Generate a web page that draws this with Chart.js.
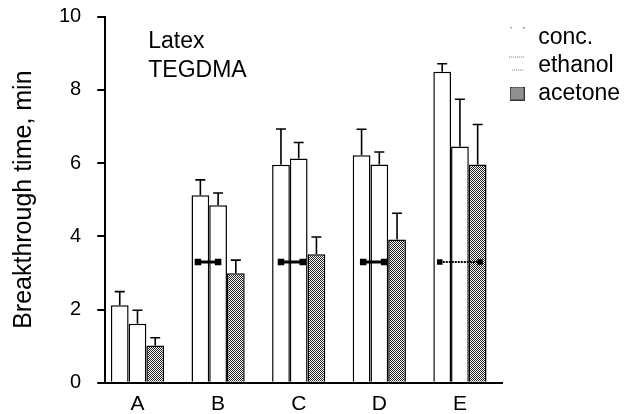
<!DOCTYPE html>
<html>
<head>
<meta charset="utf-8">
<script src="https://cdn.jsdelivr.net/npm/chart.js@4.4.0/dist/chart.umd.min.js"></script>
<style>
html, body { margin: 0; padding: 0; background: #fff; }
#wrap { width: 640px; height: 414px; }
</style>
</head>
<body>
<div id="wrap"><canvas id="graf" width="640" height="414"></canvas></div>
<script>
const kategorie = ["A", "B", "C", "D", "E"];
const conc = [2.12, 5.12, 5.95, 6.21, 8.49];
const concErr = [0.37, 0.42, 0.98, 0.71, 0.22];
const ethanol = [1.61, 4.85, 6.12, 5.96, 6.45];
const ethanolErr = [0.37, 0.33, 0.44, 0.34, 1.29];
const acetone = [1.02, 2.99, 3.51, 3.91, 5.96];
const acetoneErr = [0.21, 0.36, 0.47, 0.72, 1.09];

// horizontal range markers (B..E)
const markerY = 3.3;
const markerFrom = [0.75, 1.78, 2.80, 3.75];
const markerTo = [1.0, 2.05, 3.06, 4.25];

const popisky = ["Latex", "TEGDMA"];
const font = "'Liberation Sans', Arial, sans-serif";

function makePattern() {
    const c = document.createElement("canvas");
    c.width = 2;
    c.height = 2;
    const g = c.getContext("2d");
    g.fillStyle = "#fff";
    g.fillRect(0, 0, 2, 2);
    g.fillStyle = "#222";
    g.fillRect(0, 0, 1, 1);
    g.fillRect(1, 1, 1, 1);
    return g.createPattern(c, "repeat");
}
const sedy = makePattern();

// legend swatches
function swatch(w, h, draw) {
    const c = document.createElement("canvas");
    c.width = w;
    c.height = h;
    draw(c.getContext("2d"));
    return c;
}
const swConc = swatch(15, 22, g => {
    g.fillStyle = "#999";
    g.fillRect(0, 0, 2, 2);
    g.fillRect(13, 0, 2, 2);
});
const swEthanol = swatch(16, 20, g => {
    g.fillStyle = "#777";
    for (let x = 0; x < 16; x += 2) g.fillRect(x, 1, 1, 1);
    for (let x = 3; x < 15; x += 2) g.fillRect(x, 14, 1, 1);
});
const swAcetone = swatch(15, 14, g => {
    g.fillStyle = sedy;
    g.fillRect(0, 0, 15, 14);
    g.strokeStyle = "#333";
    g.lineWidth = 1;
    g.strokeRect(0.5, 0.5, 14, 13);
});

const toXY = arr => arr.map((v, i) => ({ x: i, y: v }));

const datasets = [
    { label: "conc.", data: toXY(conc), backgroundColor: "#fff", borderColor: "#000", borderWidth: 1.5 },
    { label: "ethanol", data: toXY(ethanol), backgroundColor: "#fff", borderColor: "#000", borderWidth: 1.5 },
    { label: "acetone", data: toXY(acetone), backgroundColor: sedy, borderColor: "#000", borderWidth: 1.5 }
];

markerFrom.forEach((from, i) => {
    const last = i === markerFrom.length - 1;
    datasets.push({
        type: "line",
        order: -1,
        label: "marker" + i,
        data: [{ x: from, y: markerY }, { x: markerTo[i], y: markerY }],
        borderColor: "#000",
        borderWidth: last ? 2 : 3,
        borderDash: last ? [2, 1] : [],
        pointStyle: "rect",
        pointRadius: 2.5,
        pointBackgroundColor: "#000",
        pointBorderColor: "#000"
    });
});

// chybove usecky nahoru
const errorBars = {
    id: "errorBars",
    afterDatasetsDraw(chart) {
        const ctx = chart.ctx;
        const yScale = chart.scales.y;
        [concErr, ethanolErr, acetoneErr].forEach((errs, di) => {
            const meta = chart.getDatasetMeta(di);
            meta.data.forEach((bar, i) => {
                const top = yScale.getPixelForValue(chart.data.datasets[di].data[i].y + errs[i]);
                ctx.save();
                ctx.strokeStyle = "#000";
                ctx.lineWidth = 1.6;
                ctx.beginPath();
                ctx.moveTo(bar.x, bar.y);
                ctx.lineTo(bar.x, top);
                ctx.moveTo(bar.x - 5, top);
                ctx.lineTo(bar.x + 5, top);
                ctx.stroke();
                ctx.restore();
            });
        });
    }
};

const popiskyPlugin = {
    id: "popisky",
    afterDraw(chart) {
        const ctx = chart.ctx;
        const a = chart.chartArea;
        ctx.save();
        ctx.fillStyle = "#000";
        ctx.font = "23px " + font;
        ctx.textBaseline = "middle";
        popisky.forEach((t, i) => ctx.fillText(t, a.left + 43, a.top + 25 + i * 29));
        ctx.restore();
    }
};

new Chart(document.getElementById("graf"), {
    type: "bar",
    data: { datasets },
    plugins: [errorBars, popiskyPlugin],
    options: {
        responsive: false,
        animation: false,
        layout: { padding: { top: 0, right: 10, bottom: -12, left: 5 } },
        datasets: {
            bar: { categoryPercentage: 0.66, barPercentage: 1 }
        },
        plugins: {
            tooltip: { enabled: false },
            legend: {
                position: "right",
                align: "start",
                title: { display: true, text: " ", font: { size: 10 }, padding: { top: 9, bottom: 0 } },
                labels: {
                    color: "#000",
                    font: { family: font, size: 23 },
                    usePointStyle: true,
                    pointStyleWidth: 19,
                    boxHeight: 14,
                    padding: 5,
                    filter: item => item.datasetIndex < 3,
                    generateLabels: chart => [
                        { text: "conc.", datasetIndex: 0, pointStyle: swConc, fontColor: "#000" },
                        { text: "ethanol", datasetIndex: 1, pointStyle: swEthanol, fontColor: "#000" },
                        { text: "acetone", datasetIndex: 2, pointStyle: swAcetone, fontColor: "#000" }
                    ]
                }
            }
        },
        scales: {
            x: {
                type: "linear",
                min: -0.4,
                max: 4.53,
                offset: false,
                grid: { display: false, drawTicks: false },
                border: { display: true, color: "#000", width: 2 },
                afterBuildTicks: scale => {
                    scale.ticks = kategorie.map((k, i) => ({ value: i }));
                },
                ticks: {
                    color: "#000",
                    font: { family: font, size: 21 },
                    padding: 9,
                    callback: v => kategorie[v]
                }
            },
            y: {
                min: 0,
                max: 10,
                grid: { display: true, drawOnChartArea: false, drawTicks: true, tickLength: 8, color: "#000", lineWidth: 2 },
                border: { display: true, color: "#000", width: 2 },
                ticks: {
                    stepSize: 2,
                    color: "#000",
                    font: { family: font, size: 20, lineHeight: 0.05 },
                    padding: 16
                },
                title: {
                    display: true,
                    text: "Breakthrough time, min",
                    color: "#000",
                    font: { family: font, size: 25 },
                    padding: 4
                }
            }
        }
    }
});
</script>
</body>
</html>
